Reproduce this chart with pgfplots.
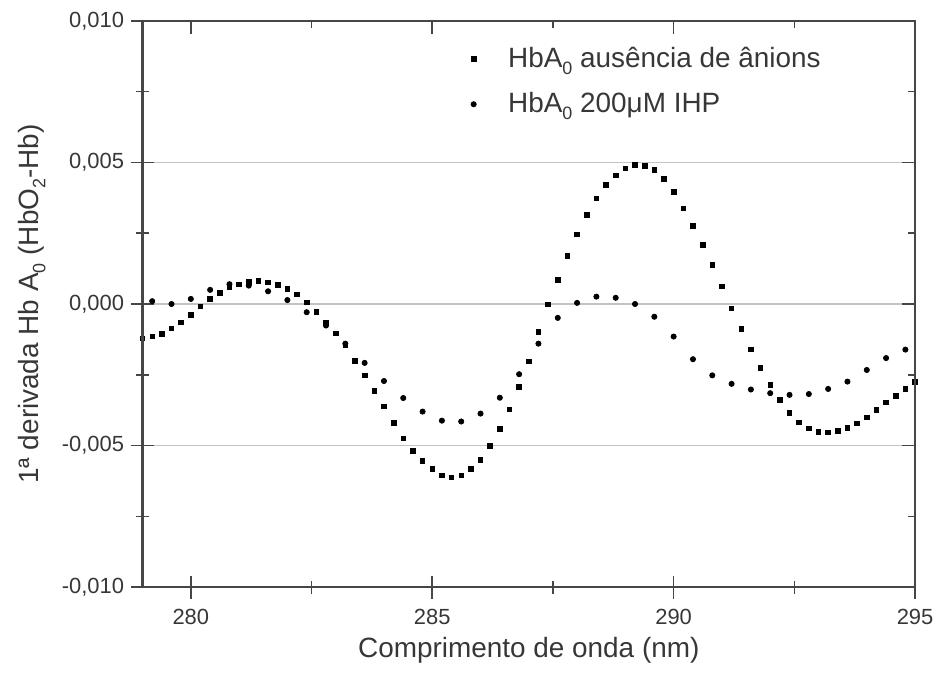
\documentclass[border=0pt]{standalone}
\usepackage{fontspec}
\setmainfont{Liberation Sans}
\usepackage{pgfplots}
\pgfplotsset{compat=1.18}
\usepackage{pgfplotstable}

% HbA0 sem anions (quadrados), passo 0.2 nm
\pgfplotstableread{
x y
279.0 -0.00121
279.2 -0.00114
279.4 -0.00106
279.6 -0.00086
279.8 -0.00065
280.0 -0.00039
280.2 -0.00009
280.4 0.00018
280.6 0.00040
280.8 0.00059
281.0 0.00070
281.2 0.00079
281.4 0.00082
281.6 0.00076
281.8 0.00067
282.0 0.00053
282.2 0.00034
282.4 0.00005
282.6 -0.00027
282.8 -0.00065
283.0 -0.00104
283.2 -0.00145
283.4 -0.00200
283.6 -0.00252
283.8 -0.00306
284.0 -0.00361
284.2 -0.00420
284.4 -0.00474
284.6 -0.00518
284.8 -0.00554
285.0 -0.00583
285.2 -0.00606
285.4 -0.00613
285.6 -0.00606
285.8 -0.00583
286.0 -0.00550
286.2 -0.00501
286.4 -0.00442
286.6 -0.00372
286.8 -0.00292
287.0 -0.00202
287.2 -0.00098
287.4 -0.00002
287.6 0.00086
287.8 0.00171
288.0 0.00246
288.2 0.00314
288.4 0.00373
288.6 0.00420
288.8 0.00455
289.0 0.00479
289.2 0.00491
289.4 0.00488
289.6 0.00473
289.8 0.00441
290.0 0.00396
290.2 0.00338
290.4 0.00276
290.6 0.00208
290.8 0.00139
291.0 0.00062
291.2 -0.00015
291.4 -0.00088
291.6 -0.00160
291.8 -0.00226
292.0 -0.00285
292.2 -0.00339
292.4 -0.00385
292.6 -0.00418
292.8 -0.00440
293.0 -0.00452
293.2 -0.00454
293.4 -0.00448
293.6 -0.00438
293.8 -0.00422
294.0 -0.00400
294.2 -0.00375
294.4 -0.00347
294.6 -0.00324
294.8 -0.00300
295.0 -0.00276
}\semanions

% HbA0 + 200 uM IHP (circulos), passo 0.4 nm
\pgfplotstableread{
x y
279.2 0.00010
279.6 0.00000
280.0 0.00018
280.4 0.00050
280.8 0.00070
281.2 0.00065
281.6 0.00045
282.0 0.00014
282.4 -0.00029
282.8 -0.00076
283.2 -0.00140
283.6 -0.00208
284.0 -0.00272
284.4 -0.00332
284.8 -0.00380
285.2 -0.00412
285.6 -0.00415
286.0 -0.00387
286.4 -0.00331
286.8 -0.00248
287.2 -0.00140
287.6 -0.00049
288.0 0.00004
288.4 0.00026
288.8 0.00022
289.2 0.00000
289.6 -0.00045
290.0 -0.00115
290.4 -0.00195
290.8 -0.00252
291.2 -0.00282
291.6 -0.00302
292.0 -0.00315
292.4 -0.00321
292.8 -0.00318
293.2 -0.00300
293.6 -0.00274
294.0 -0.00233
294.4 -0.00191
294.8 -0.00161
}\ihp

\definecolor{txt}{RGB}{55,55,55}
\definecolor{axc}{RGB}{70,70,70}
\definecolor{gridc}{RGB}{195,195,195}

\newcommand{\sub}[1]{\raisebox{-0.45ex}{\fontsize{9}{9}\selectfont #1}}

\pgfplotsset{
  base/.style={
    width=387.5pt, height=284pt, scale only axis,
    xmin=279, xmax=295, ymin=-0.010, ymax=0.010,
    xtick={280,285,290,295}, minor x tick num=1,
    ytick={-0.01,-0.005,0,0.005,0.01}, minor y tick num=1,
    scaled y ticks=false,
    axis line style={line width=1.1pt, axc},
    every tick/.style={line width=0.8pt, axc},
  },
}

\begin{document}
\begin{tikzpicture}
\begin{axis}[base,
    xtick pos=left, ytick pos=left,
    tick align=center,
    major tick length=11.5pt, minor tick length=6.5pt,
    ymajorgrids,
    grid style={line width=0.75pt, gridc},
    /pgf/number format/assume math mode=true,
    yticklabel style={/pgf/number format/.cd, fixed, fixed zerofill, precision=3, use comma},
    tick label style={font=\fontsize{11}{13}\selectfont, text=txt},
    xticklabel style={yshift=-2pt},
    xlabel={Comprimento de onda (nm)},
    ylabel={1ª derivada Hb A\sub{0} (HbO\sub{2}-Hb)},
    every axis x label/.style={at={(axis description cs:0.5,-0.112)}, anchor=center,
      font=\fontsize{14}{16}\selectfont, text=txt},
    every axis y label/.style={at={(axis description cs:-0.143,0.5)}, rotate=90, anchor=center,
      font=\fontsize{14}{16}\selectfont, text=txt},
    legend style={draw=none, fill=none, at={(0.417,0.968)}, anchor=north west,
      font=\fontsize{14}{16}\selectfont, text=txt, row sep=7pt, column sep=14pt},
    legend cell align=left,
]
\addplot[only marks, mark=square*, mark size=1.15pt, black] table {\semanions};
\addlegendentry{HbA\sub{0} ausência de ânions}
\addplot[only marks, mark=*, mark size=1.3pt, black] table {\ihp};
\addlegendentry{HbA\sub{0} 200μM IHP}
\coordinate (bl) at (rel axis cs:0,0);
\end{axis}
\begin{axis}[base,
    xtick pos=right, ytick pos=right,
    tick align=inside,
    major tick length=6.5pt, minor tick length=3.5pt,
    xticklabels={}, yticklabels={},
]
\end{axis}
\path (bl) ++(-71.5pt,-44.5pt) rectangle ++(470pt,339pt);
\end{tikzpicture}
\end{document}
